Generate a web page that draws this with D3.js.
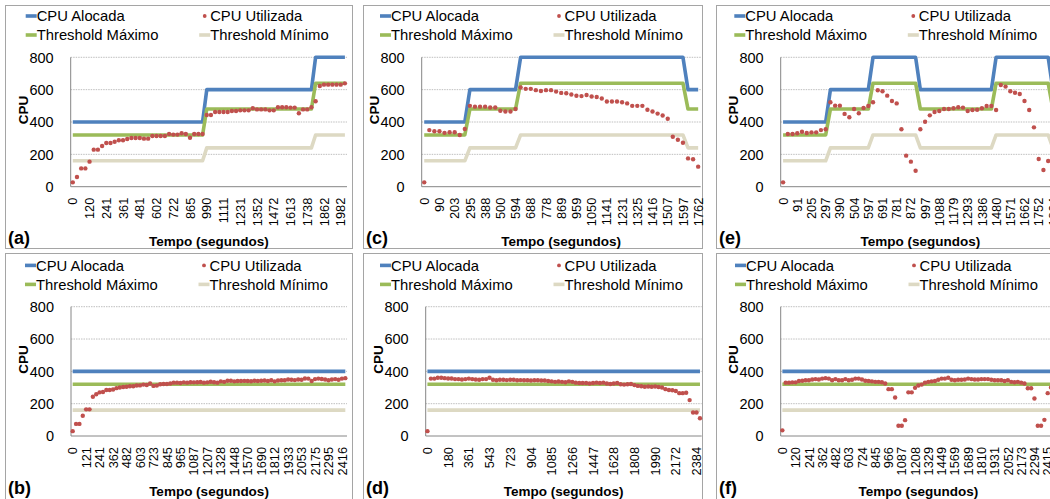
<!DOCTYPE html>
<html>
<head>
<meta charset="utf-8">
<script src="https://cdn.jsdelivr.net/npm/d3@7"></script>
<style>
  body { margin: 0; background: #fff; }
  svg { display: block; }
  text { font-family: 'Liberation Sans', Arial, sans-serif; fill: #000; }
</style>
</head>
<body>
<svg id="chart" width="1050" height="499"></svg>
<script>
// series names (legend order)
const seriesNames = ['CPU Alocada', 'CPU Utilizada', 'Threshold Máximo', 'Threshold Mínimo'];
const yTicks = [0, 200, 400, 600, 800];

// (a)
const tempoA = ['0','120','241','361','481','602','722','865','990','1111','1231','1352','1472','1613','1738','1862','1982'];
const usoA = [27,60,113,113,155,229,229,252,270,270,278,287,287,295,301,301,301,297,297,313,313,313,313,326,322,322,330,326,303,326,326,326,
  443,443,462,462,462,462,468,468,472,472,472,485,478,478,478,472,472,491,491,491,489,489,454,478,478,491,528,623,631,631,631,631,631,639];
const alocA = [[400,32],[600,26],[800,8]];
const maxA = [[320,32],[480,26],[640,8]];
const minA = [[160,32],[240,26],[320,8]];

// (b)
const tempoB = ['0','121','241','362','482','603','723','845','965','1087','1207','1328','1448','1570','1690','1812','1933','2053','2175','2295','2416'];
const usoB = [30,75,75,125,165,165,243,258,270,272,285,285,288,296,300,303,305,308,308,312,313,318,316,325,310,312,320,322,322,325,
  330,330,328,332,330,333,332,333,334,330,332,336,333,330,338,335,342,342,338,340,340,341,340,339,342,340,342,343,340,345,
  338,343,345,345,350,348,346,350,348,356,355,340,352,355,353,350,345,350,352,348,355,358];
const alocB = [[400,82]];
const maxB = [[320,82]];
const minB = [[160,82]];

// (c)
const tempoC = ['0','90','203','295','388','500','594','688','778','869','959','1050','1141','1231','1325','1416','1507','1597','1762'];
const usoC = [27,350,343,343,333,337,337,320,357,
  500,495,495,495,490,490,470,465,465,480,
  613,605,605,597,592,597,597,588,580,578,570,562,560,567,558,555,545,527,527,527,522,515,500,500,500,476,465,452,440,420,
  309,290,272,175,170,124];
const alocC = [[400,9],[600,10],[800,33],[600,3]];
const maxC = [[320,9],[480,10],[640,33],[480,3]];
const minC = [[160,9],[240,10],[320,33],[240,3]];

// (d)
const tempoD = ['0','180','361','543','723','904','1085','1266','1447','1628','1808','1990','2172','2384'];
const usoD = [30,355,355,360,360,358,356,356,352,352,350,352,355,352,350,348,352,352,360,348,
  345,348,348,346,348,348,345,346,345,345,343,345,345,343,343,340,338,335,337,335,
  333,338,335,330,328,328,328,325,328,330,328,330,325,322,325,328,320,318,320,322,
  315,310,308,305,306,305,306,303,300,290,285,283,278,265,265,268,222,145,145,110];
const alocD = [[400,80]];
const maxD = [[320,80]];
const minD = [[160,80]];

// (e)
const tempoE = ['0','91','205','297','390','504','597','691','781','872','997','1088','1179','1293','1386','1480','1571','1662','1752','1864'];
const usoE = [27,326,326,330,340,332,336,336,350,355,522,501,501,450,429,480,454,487,499,522,
  596,590,563,530,515,355,192,155,99,355,402,441,462,468,480,480,485,491,489,468,
  474,476,485,499,499,474,629,619,590,581,573,530,474,367,171,103,159,326,330];
const alocE = [[400,10],[600,9],[800,10],[600,16],[800,12],[600,2]];
const maxE = [[320,10],[480,9],[640,10],[480,16],[640,12],[480,2]];
const minE = [[160,10],[240,9],[320,10],[240,16],[320,12],[240,2]];

// (f)
const tempoF = ['0','120','241','362','482','603','724','845','966','1087','1208','1329','1449','1569','1689','1810','1931','2052','2173','2294','2415'];
const usoF = [35,330,330,332,332,340,342,345,345,350,352,350,355,358,355,345,352,345,345,352,
  345,348,355,355,350,342,340,338,335,335,333,325,290,290,238,63,63,98,270,270,
  298,312,318,330,335,338,340,348,355,355,360,348,345,348,348,350,355,352,350,350,
  352,352,352,348,345,345,345,340,345,335,333,335,330,325,295,295,232,63,63,100,
  265,300,320];
const alocF = [[400,83]];
const maxF = [[320,83]];
const minF = [[160,83]];

const colors = { aloc: '#4f81bd', uso: '#c0504d', max: '#9bbb59', min: '#ddd9c3' };

// expand [value, count] runs into one value per sample
function expand(runs) {
  const out = [];
  runs.forEach(([v, n]) => { for (let k = 0; k < n; k++) out.push(v); });
  return out;
}

const top1 = { y800: 57.3, y0: 186.7, boxY: 5.5, boxH: 243 };
const top2 = { y800: 306.7, y0: 436, boxY: 253.5, boxH: 260 };

const panels = [
  { label: '(a)', row: top1, uso: usoA, aloc: alocA, max: maxA, min: minA, tempo: tempoA, every: 4, boxX: 5.5, boxW: 347, x0: 70.7, x1: 347, leg: 25.7 },
  { label: '(c)', row: top1, uso: usoC, aloc: alocC, max: maxC, min: minC, tempo: tempoC, every: 3, boxX: 363.5, boxW: 339, x0: 421.7, x1: 700.7, leg: 380 },
  { label: '(e)', row: top1, uso: usoE, aloc: alocE, max: maxE, min: minE, tempo: tempoE, every: 3, boxX: 716.5, boxW: 360, x0: 780.7, x1: 1060, leg: 734.3 },
  { label: '(b)', row: top2, uso: usoB, aloc: alocB, max: maxB, min: minB, tempo: tempoB, every: 4, boxX: 5.5, boxW: 347, x0: 71, x1: 347, leg: 25 },
  { label: '(d)', row: top2, uso: usoD, aloc: alocD, max: maxD, min: minD, tempo: tempoD, every: 6, boxX: 363.5, boxW: 339, x0: 425.7, x1: 701.7, leg: 380 },
  { label: '(f)', row: top2, uso: usoF, aloc: alocF, max: maxF, min: minF, tempo: tempoF, every: 4, boxX: 716.5, boxW: 360, x0: 780.7, x1: 1056, leg: 735 }
];

const svg = d3.select('#chart');

panels.forEach((p) => {
  const g = svg.append('g');
  const n = p.uso.length;

  const x = d3.scalePoint().domain(d3.range(n)).range([p.x0, p.x1]).padding(0.5);
  const y = d3.scaleLinear().domain([0, 800]).range([p.row.y0, p.row.y800]);

  // panel border
  g.append('rect')
    .attr('x', p.boxX).attr('y', p.row.boxY)
    .attr('width', p.boxW).attr('height', p.row.boxH)
    .attr('fill', 'none').attr('stroke', '#a5a5a5');

  // gridlines
  g.selectAll('.grid')
    .data(yTicks.filter((d) => d > 0))
    .enter().append('line')
    .attr('x1', p.x0).attr('x2', p.x1)
    .attr('y1', (d) => y(d)).attr('y2', (d) => y(d))
    .attr('stroke', '#bfbfbf')
    .attr('stroke-dasharray', '1.5,1');

  // axis lines
  g.append('line').attr('x1', p.x0).attr('x2', p.x0)
    .attr('y1', y(800)).attr('y2', y(0)).attr('stroke', '#868686');
  g.append('line').attr('x1', p.x0).attr('x2', p.x1)
    .attr('y1', y(0)).attr('y2', y(0)).attr('stroke', '#868686');

  // y tick labels
  g.selectAll('.ytick')
    .data(yTicks)
    .enter().append('text')
    .attr('x', p.x0 - 17)
    .attr('y', (d) => y(d))
    .attr('dy', '0.36em')
    .attr('text-anchor', 'end')
    .style('font-size', '14.5px')
    .text((d) => d);

  // x tick labels (every nth sample)
  g.selectAll('.xtick')
    .data(p.tempo)
    .enter().append('text')
    .attr('transform', (d, j) => `translate(${x(j * p.every)},${y(0) + 11}) rotate(-90)`)
    .attr('dy', '0.36em')
    .attr('text-anchor', 'end')
    .style('font-size', '12.8px')
    .text((d) => d);

  // axis titles
  g.append('text')
    .attr('transform', `translate(${p.x0 - 48},${p.row.y800 + 52.8}) rotate(-90)`)
    .attr('dy', '0.36em')
    .attr('text-anchor', 'middle')
    .style('font-size', '13.5px').style('font-weight', 'bold')
    .text('CPU');
  g.append('text')
    .attr('x', (p.x0 + Math.min(p.x1, 1050 + (p.x1 - 1050))) / 2)
    .attr('y', p.row.y0 + 59.5)
    .attr('text-anchor', 'middle')
    .style('font-size', '13.5px').style('font-weight', 'bold')
    .text('Tempo (segundos)');

  // panel letter
  g.append('text')
    .attr('x', p.boxX + 2.5)
    .attr('y', p.row.y0 + 57.5)
    .style('font-size', '18px').style('font-weight', 'bold')
    .text(p.label);

  // lines
  const line = d3.line().x((d, i) => x(i)).y((d) => y(d));
  [['aloc', p.aloc], ['max', p.max], ['min', p.min]].forEach(([key, runs]) => {
    g.append('path')
      .datum(expand(runs))
      .attr('d', line)
      .attr('fill', 'none')
      .attr('stroke', colors[key])
      .attr('stroke-width', 3.6)
      .attr('stroke-linejoin', 'round');
  });

  // CPU utilizada markers
  g.selectAll('.dot')
    .data(p.uso)
    .enter().append('circle')
    .attr('cx', (d, i) => x(i))
    .attr('cy', (d) => y(d))
    .attr('r', 2.2)
    .attr('fill', colors.uso);

  // legend
  const legRows = [p.row.y800 - 41.3, p.row.y800 - 22.3];
  const legItems = [
    { name: seriesNames[0], key: 'aloc', cx: p.leg, cy: legRows[0] },
    { name: seriesNames[1], key: 'uso', cx: p.leg + 173.5, cy: legRows[0] },
    { name: seriesNames[2], key: 'max', cx: p.leg, cy: legRows[1] },
    { name: seriesNames[3], key: 'min', cx: p.leg + 173.5, cy: legRows[1] }
  ];
  legItems.forEach((it) => {
    if (it.key === 'uso') {
      g.append('circle').attr('cx', it.cx + 5.5).attr('cy', it.cy).attr('r', 1.9).attr('fill', colors.uso);
    } else {
      g.append('line')
        .attr('x1', it.cx).attr('x2', it.cx + 11)
        .attr('y1', it.cy).attr('y2', it.cy)
        .attr('stroke', colors[it.key]).attr('stroke-width', 3.6);
    }
    g.append('text')
      .attr('x', it.cx + 11)
      .attr('y', it.cy)
      .attr('dy', '0.36em')
      .style('font-size', '14.8px')
      .text(it.name);
  });
});
</script>
</body>
</html>
